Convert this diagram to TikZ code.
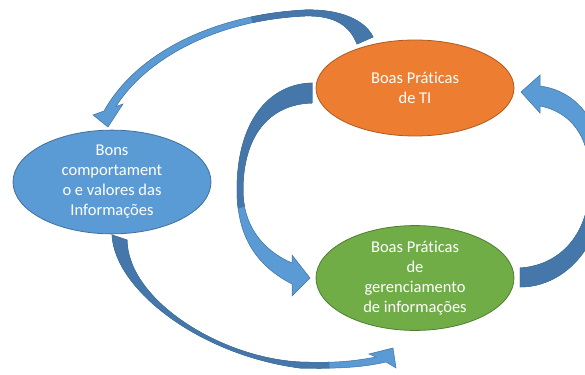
\documentclass[tikz,border=0pt]{standalone}
\usepackage{fontspec}
\setmainfont{Carlito}[Ligatures={NoCommon}]
\usetikzlibrary{shapes.geometric}

\definecolor{arrLight}{HTML}{5B9BD5}
\definecolor{arrDark}{HTML}{4677AA}
\definecolor{arrLine}{HTML}{41719C}
\definecolor{orangeFill}{HTML}{ED7D31}
\definecolor{orangeLine}{HTML}{AE5A21}
\definecolor{blueFill}{HTML}{5B9BD5}
\definecolor{blueLine}{HTML}{41719C}
\definecolor{greenFill}{HTML}{70AD47}
\definecolor{greenLine}{HTML}{507E32}

\begin{document}
\begin{tikzpicture}[x=1pt,y=-1pt,
  bubble/.style={ellipse, minimum width=198pt, minimum height=96pt,
    inner sep=0pt, align=center, text=white, line width=0.8pt,
    font=\fontsize{16.5}{20}\selectfont},
  facelight/.style={fill=arrLight, draw=arrLine, line width=0.5pt},
  facedark/.style={fill=arrDark, draw=arrLine, line width=0.5pt}]

\useasboundingbox (0,0) rectangle (585,374);
\fill[white] (0,0) rectangle (585,374);
\clip (0,0) rectangle (585,374);

% curved block arrow: top, from "de TI" over to the left bubble
\path[save path=\arrowTop]
  (373,37) -- (357,44)
  .. controls (350,26) and (335,15) .. (305,16)
  .. controls (215,20) and (145,60) .. (116,106.5)
  -- (123,104) -- (108,127) -- (93,115) -- (104,111)
  .. controls (135,55) and (210,15) .. (305,10)
  .. controls (340,9) and (365,20) .. (373,37) -- cycle;

% curved block arrow: left, from "de TI" down to the green bubble
\path[save path=\arrowLeft]
  (312,83) -- (312,103)
  .. controls (270,104) and (243,135) .. (243,190)
  .. controls (243,225) and (262,250) .. (292,263)
  -- (292,255) -- (310,278) -- (292,296) -- (292,284)
  .. controls (255,265) and (237,235) .. (237,190)
  .. controls (237,120) and (270,84) .. (312,83) -- cycle;

% curved block arrow: right, from the green bubble up to "de TI"
\path[save path=\arrowRight]
  (520,268) -- (520,287)
  .. controls (567,287) and (605,242) .. (605,180)
  .. controls (605,135) and (585,92) .. (540,86)
  -- (540,75) -- (521,92) -- (540,113) -- (540,106)
  .. controls (570,112) and (590,135) .. (590,180)
  .. controls (590,240) and (555,266) .. (520,268) -- cycle;

% curved block arrow: bottom, from the left bubble down to the green bubble
\path[save path=\arrowBottom]
  (112,235) -- (127,240)
  .. controls (128,300) and (220,358) .. (300,362)
  .. controls (330,363) and (350,362) .. (376,357)
  -- (369,354) -- (393,348) -- (396,368) -- (386,362)
  .. controls (365,367) and (340,369) .. (300,368)
  .. controls (200,355) and (115,290) .. (112,235) -- cycle;

% light front faces
\path[facelight, use path=\arrowTop];
\path[facelight, use path=\arrowLeft];
\path[facelight, use path=\arrowRight];
\path[facelight, use path=\arrowBottom];

% darker back faces near the tails
\begin{scope}
  \clip (245,0) -- (400,0) -- (400,60) -- (265,60) -- cycle;
  \path[facedark, use path=\arrowTop];
\end{scope}
\begin{scope}
  \clip (220,60) -- (320,60) -- (320,180) -- (220,215) -- cycle;
  \path[facedark, use path=\arrowLeft];
\end{scope}
\begin{scope}
  \clip (500,300) -- (500,200) -- (620,170) -- (620,300) -- cycle;
  \path[facedark, use path=\arrowRight];
\end{scope}
\begin{scope}
  \clip (100,225) -- (320,225) -- (330,374) -- (100,374) -- cycle;
  \path[facedark, use path=\arrowBottom];
\end{scope}

% bubbles
\node[bubble, fill=orangeFill, draw=orangeLine] (ti) at (415,88)
  {Boas Práticas\\de TI};
\node[bubble, fill=blueFill, draw=blueLine] (bons) at (112,182)
  {Bons\\comportament\\o e valores das\\Informações};
\node[bubble, fill=greenFill, draw=greenLine] (ger) at (415,278)
  {Boas Práticas\\de\\gerenciamento\\de informações};
\end{tikzpicture}
\end{document}
